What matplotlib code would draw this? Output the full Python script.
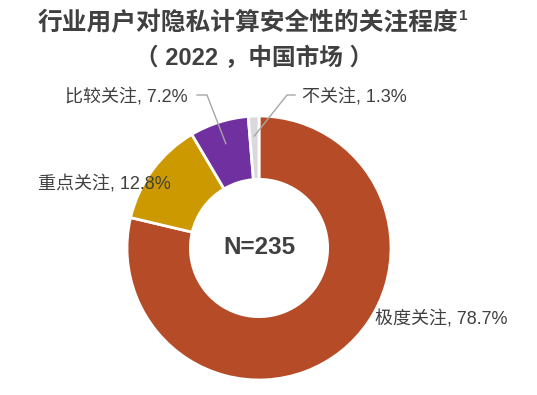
import matplotlib
matplotlib.use('Agg')
import matplotlib.pyplot as plt
import numpy as np

plt.rcParams['font.family'] = ['Liberation Sans', 'Noto Sans CJK SC', 'DejaVu Sans']

# data
categories = ['极度关注', '重点关注', '比较关注', '不关注']
shares = [78.7, 12.8, 7.2, 1.3]
colors = ['#B64B27', '#CC9900', '#7030A0', '#D9D9D9']
n_label = 'N=235'

title_1 = '行业用户对隐私计算安全性的关注程度'
title_2 = '（ 2022 ，中国市场 ）'

text_color = '#404040'

fig = plt.figure(figsize=(5.37, 3.95), dpi=100)

# donut axes: centre ~ (259, 248) px, radius ~132 px
W, H = 537, 395
cx, cy, R = 259, 248, 132
ax = fig.add_axes([(cx - R) / W, (H - cy - R) / H, 2 * R / W, 2 * R / H])

wedges, _ = ax.pie(shares, colors=colors, startangle=90, counterclock=False,
                   wedgeprops=dict(width=0.48, edgecolor='white', linewidth=2))
ax.set_xlim(-1, 1)
ax.set_ylim(-1, 1)
ax.set_aspect('equal')
ax.axis('off')

ax.text(0, 0, n_label, ha='center', va='center', fontsize=17.5,
        fontweight='bold', color=text_color)


def px(x, y):
    # pixel position -> data coordinates of the donut axes
    return (x - cx) / R, (cy - y) / R


def wedge_point(w, r=0.78):
    a = np.deg2rad((w.theta1 + w.theta2) / 2)
    return r * np.cos(a), r * np.sin(a)


lab = [f'{c}, {s}%' for c, s in zip(categories, shares)]
fs = 13

# 极度关注
ax.text(*px(375, 319), lab[0], ha='left', va='center', fontsize=fs,
        color=text_color)
# 重点关注
ax.text(*px(171, 184), lab[1], ha='right', va='center', fontsize=fs,
        color=text_color)
# 比较关注 with leader
ax.text(*px(188, 97), lab[2], ha='right', va='center', fontsize=fs,
        color=text_color)
p0 = px(197, 95)
p1 = px(207, 95)
p2 = wedge_point(wedges[2], 0.83)
ax.plot([p0[0], p1[0], p2[0]], [p0[1], p1[1], p2[1]], color='#A6A6A6',
        lw=1, clip_on=False)
# 不关注 with leader
ax.text(*px(302, 97), lab[3], ha='left', va='center', fontsize=fs,
        color=text_color)
q0 = px(295, 95)
q1 = px(287, 95)
q2 = wedge_point(wedges[3], 0.85)
ax.plot([q0[0], q1[0], q2[0]], [q0[1], q1[1], q2[1]], color='#A6A6A6',
        lw=1, clip_on=False)

# title
t1 = fig.text(248 / W, 1 - 23 / H, title_1, ha='center', va='center',
              fontsize=17.8, fontweight='heavy', color=text_color)
ax.annotate('1', xy=(1, 1), xycoords=t1, xytext=(0.5, 1.5),
            textcoords='offset points', ha='left', va='top', fontsize=11,
            fontweight='bold', color=text_color, annotation_clip=False)
fig.text(254 / W, 1 - 58 / H, title_2, ha='center', va='center',
         fontsize=17, fontweight='heavy', color=text_color)

fig.savefig('out.png', dpi=100)
